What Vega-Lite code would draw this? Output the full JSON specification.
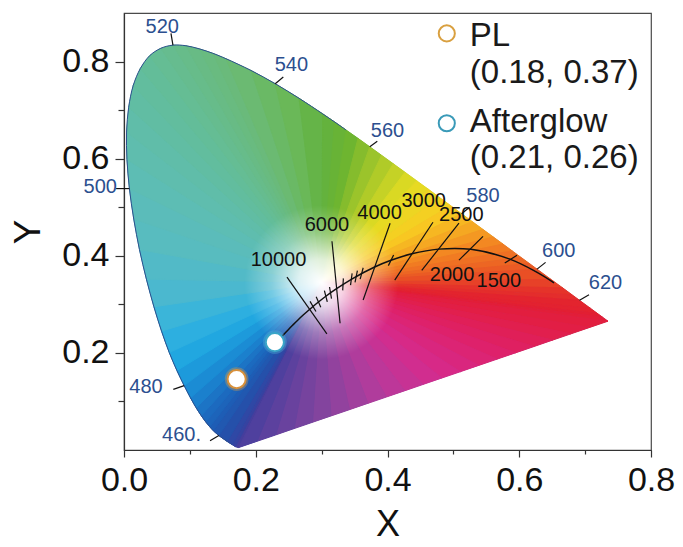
{
"$schema":"https://vega.github.io/schema/vega-lite/v6.json",
"width":527,"height":437,
"autosize":{"type":"none"},
"padding":{"left":124,"top":13,"right":32,"bottom":97},
"background":"white",
"config":{"font":"Liberation Sans","view":{"stroke":"#4a4a4a","strokeWidth":1.2},
 "axis":{"domainColor":"#333","tickColor":"#333","labelColor":"#111","titleColor":"#111","grid":false,"labelFont":"Liberation Sans","titleFont":"Liberation Sans","titleFontWeight":"normal","domainWidth":1.2,"tickWidth":1.2,"labelOverlap":false,"labelFlush":false}},
"datasets":{
"fan":[
{"t":0,"o":0,"x":0.3,"y":0.345,"p":405},{"t":0,"o":1,"x":0.1741,"y":0.005,"p":405},{"t":0,"o":2,"x":0.1689,"y":0.0069,"p":405},
{"t":1,"o":0,"x":0.3,"y":0.345,"p":435},{"t":1,"o":1,"x":0.1689,"y":0.0069,"p":435},{"t":1,"o":2,"x":0.1644,"y":0.0109,"p":435},
{"t":2,"o":0,"x":0.3,"y":0.345,"p":445},{"t":2,"o":1,"x":0.1644,"y":0.0109,"p":445},{"t":2,"o":2,"x":0.1566,"y":0.0177,"p":445},
{"t":3,"o":0,"x":0.3,"y":0.345,"p":455},{"t":3,"o":1,"x":0.1566,"y":0.0177,"p":455},{"t":3,"o":2,"x":0.144,"y":0.0297,"p":455},
{"t":4,"o":0,"x":0.3,"y":0.345,"p":462.5},{"t":4,"o":1,"x":0.144,"y":0.0297,"p":462.5},{"t":4,"o":2,"x":0.1355,"y":0.0399,"p":462.5},
{"t":5,"o":0,"x":0.3,"y":0.345,"p":466.25},{"t":5,"o":1,"x":0.1355,"y":0.0399,"p":466.25},{"t":5,"o":2,"x":0.1302,"y":0.0477,"p":466.25},
{"t":6,"o":0,"x":0.3,"y":0.345,"p":468.75},{"t":6,"o":1,"x":0.1302,"y":0.0477,"p":468.75},{"t":6,"o":2,"x":0.1241,"y":0.0578,"p":468.75},
{"t":7,"o":0,"x":0.3,"y":0.345,"p":471.25},{"t":7,"o":1,"x":0.1241,"y":0.0578,"p":471.25},{"t":7,"o":2,"x":0.1173,"y":0.0706,"p":471.25},
{"t":8,"o":0,"x":0.3,"y":0.345,"p":473.75},{"t":8,"o":1,"x":0.1173,"y":0.0706,"p":473.75},{"t":8,"o":2,"x":0.1096,"y":0.0868,"p":473.75},
{"t":9,"o":0,"x":0.3,"y":0.345,"p":476.25},{"t":9,"o":1,"x":0.1096,"y":0.0868,"p":476.25},{"t":9,"o":2,"x":0.101,"y":0.1073,"p":476.25},
{"t":10,"o":0,"x":0.3,"y":0.345,"p":478.75},{"t":10,"o":1,"x":0.101,"y":0.1073,"p":478.75},{"t":10,"o":2,"x":0.0913,"y":0.1327,"p":478.75},
{"t":11,"o":0,"x":0.3,"y":0.345,"p":481.25},{"t":11,"o":1,"x":0.0913,"y":0.1327,"p":481.25},{"t":11,"o":2,"x":0.0803,"y":0.1637,"p":481.25},
{"t":12,"o":0,"x":0.3,"y":0.345,"p":483.75},{"t":12,"o":1,"x":0.0803,"y":0.1637,"p":483.75},{"t":12,"o":2,"x":0.0687,"y":0.2007,"p":483.75},
{"t":13,"o":0,"x":0.3,"y":0.345,"p":486.25},{"t":13,"o":1,"x":0.0687,"y":0.2007,"p":486.25},{"t":13,"o":2,"x":0.057,"y":0.2447,"p":486.25},
{"t":14,"o":0,"x":0.3,"y":0.345,"p":488.75},{"t":14,"o":1,"x":0.057,"y":0.2447,"p":488.75},{"t":14,"o":2,"x":0.0454,"y":0.295,"p":488.75},
{"t":15,"o":0,"x":0.3,"y":0.345,"p":491.25},{"t":15,"o":1,"x":0.0454,"y":0.295,"p":491.25},{"t":15,"o":2,"x":0.034,"y":0.3519,"p":491.25},
{"t":16,"o":0,"x":0.3,"y":0.345,"p":493.75},{"t":16,"o":1,"x":0.034,"y":0.3519,"p":493.75},{"t":16,"o":2,"x":0.0235,"y":0.4127,"p":493.75},
{"t":17,"o":0,"x":0.3,"y":0.345,"p":496.25},{"t":17,"o":1,"x":0.0235,"y":0.4127,"p":496.25},{"t":17,"o":2,"x":0.0148,"y":0.4756,"p":496.25},
{"t":18,"o":0,"x":0.3,"y":0.345,"p":498.75},{"t":18,"o":1,"x":0.0148,"y":0.4756,"p":498.75},{"t":18,"o":2,"x":0.0082,"y":0.5384,"p":498.75},
{"t":19,"o":0,"x":0.3,"y":0.345,"p":501.25},{"t":19,"o":1,"x":0.0082,"y":0.5384,"p":501.25},{"t":19,"o":2,"x":0.0045,"y":0.5985,"p":501.25},
{"t":20,"o":0,"x":0.3,"y":0.345,"p":503.75},{"t":20,"o":1,"x":0.0045,"y":0.5985,"p":503.75},{"t":20,"o":2,"x":0.0039,"y":0.6548,"p":503.75},
{"t":21,"o":0,"x":0.3,"y":0.345,"p":506.25},{"t":21,"o":1,"x":0.0039,"y":0.6548,"p":506.25},{"t":21,"o":2,"x":0.0071,"y":0.7059,"p":506.25},
{"t":22,"o":0,"x":0.3,"y":0.345,"p":508.75},{"t":22,"o":1,"x":0.0071,"y":0.7059,"p":508.75},{"t":22,"o":2,"x":0.0139,"y":0.7502,"p":508.75},
{"t":23,"o":0,"x":0.3,"y":0.345,"p":511.25},{"t":23,"o":1,"x":0.0139,"y":0.7502,"p":511.25},{"t":23,"o":2,"x":0.0248,"y":0.7857,"p":511.25},
{"t":24,"o":0,"x":0.3,"y":0.345,"p":513.75},{"t":24,"o":1,"x":0.0248,"y":0.7857,"p":513.75},{"t":24,"o":2,"x":0.0389,"y":0.812,"p":513.75},
{"t":25,"o":0,"x":0.3,"y":0.345,"p":516.25},{"t":25,"o":1,"x":0.0389,"y":0.812,"p":516.25},{"t":25,"o":2,"x":0.0557,"y":0.8272,"p":516.25},
{"t":26,"o":0,"x":0.3,"y":0.345,"p":518.75},{"t":26,"o":1,"x":0.0557,"y":0.8272,"p":518.75},{"t":26,"o":2,"x":0.0743,"y":0.8338,"p":518.75},
{"t":27,"o":0,"x":0.3,"y":0.345,"p":521.25},{"t":27,"o":1,"x":0.0743,"y":0.8338,"p":521.25},{"t":27,"o":2,"x":0.0939,"y":0.8326,"p":521.25},
{"t":28,"o":0,"x":0.3,"y":0.345,"p":523.75},{"t":28,"o":1,"x":0.0939,"y":0.8326,"p":523.75},{"t":28,"o":2,"x":0.1142,"y":0.8262,"p":523.75},
{"t":29,"o":0,"x":0.3,"y":0.345,"p":526.25},{"t":29,"o":1,"x":0.1142,"y":0.8262,"p":526.25},{"t":29,"o":2,"x":0.1346,"y":0.8171,"p":526.25},
{"t":30,"o":0,"x":0.3,"y":0.345,"p":528.75},{"t":30,"o":1,"x":0.1346,"y":0.8171,"p":528.75},{"t":30,"o":2,"x":0.1547,"y":0.8059,"p":528.75},
{"t":31,"o":0,"x":0.3,"y":0.345,"p":532.5},{"t":31,"o":1,"x":0.1547,"y":0.8059,"p":532.5},{"t":31,"o":2,"x":0.1929,"y":0.7816,"p":532.5},
{"t":32,"o":0,"x":0.3,"y":0.345,"p":537.5},{"t":32,"o":1,"x":0.1929,"y":0.7816,"p":537.5},{"t":32,"o":2,"x":0.2296,"y":0.7543,"p":537.5},
{"t":33,"o":0,"x":0.3,"y":0.345,"p":542.5},{"t":33,"o":1,"x":0.2296,"y":0.7543,"p":542.5},{"t":33,"o":2,"x":0.2658,"y":0.7243,"p":542.5},
{"t":34,"o":0,"x":0.3,"y":0.345,"p":547.5},{"t":34,"o":1,"x":0.2658,"y":0.7243,"p":547.5},{"t":34,"o":2,"x":0.3016,"y":0.6923,"p":547.5},
{"t":35,"o":0,"x":0.3,"y":0.345,"p":551.25},{"t":35,"o":1,"x":0.3016,"y":0.6923,"p":551.25},{"t":35,"o":2,"x":0.3195,"y":0.6758,"p":551.25},
{"t":36,"o":0,"x":0.3,"y":0.345,"p":553.75},{"t":36,"o":1,"x":0.3195,"y":0.6758,"p":553.75},{"t":36,"o":2,"x":0.3373,"y":0.6589,"p":553.75},
{"t":37,"o":0,"x":0.3,"y":0.345,"p":556.25},{"t":37,"o":1,"x":0.3373,"y":0.6589,"p":556.25},{"t":37,"o":2,"x":0.3552,"y":0.6418,"p":556.25},
{"t":38,"o":0,"x":0.3,"y":0.345,"p":558.75},{"t":38,"o":1,"x":0.3552,"y":0.6418,"p":558.75},{"t":38,"o":2,"x":0.3731,"y":0.6245,"p":558.75},
{"t":39,"o":0,"x":0.3,"y":0.345,"p":561.25},{"t":39,"o":1,"x":0.3731,"y":0.6245,"p":561.25},{"t":39,"o":2,"x":0.3909,"y":0.6071,"p":561.25},
{"t":40,"o":0,"x":0.3,"y":0.345,"p":563.75},{"t":40,"o":1,"x":0.3909,"y":0.6071,"p":563.75},{"t":40,"o":2,"x":0.4087,"y":0.5896,"p":563.75},
{"t":41,"o":0,"x":0.3,"y":0.345,"p":566.25},{"t":41,"o":1,"x":0.4087,"y":0.5896,"p":566.25},{"t":41,"o":2,"x":0.4265,"y":0.5721,"p":566.25},
{"t":42,"o":0,"x":0.3,"y":0.345,"p":568.75},{"t":42,"o":1,"x":0.4265,"y":0.5721,"p":568.75},{"t":42,"o":2,"x":0.4441,"y":0.5547,"p":568.75},
{"t":43,"o":0,"x":0.3,"y":0.345,"p":571.25},{"t":43,"o":1,"x":0.4441,"y":0.5547,"p":571.25},{"t":43,"o":2,"x":0.4616,"y":0.5374,"p":571.25},
{"t":44,"o":0,"x":0.3,"y":0.345,"p":573.75},{"t":44,"o":1,"x":0.4616,"y":0.5374,"p":573.75},{"t":44,"o":2,"x":0.4788,"y":0.5202,"p":573.75},
{"t":45,"o":0,"x":0.3,"y":0.345,"p":576.25},{"t":45,"o":1,"x":0.4788,"y":0.5202,"p":576.25},{"t":45,"o":2,"x":0.4958,"y":0.5033,"p":576.25},
{"t":46,"o":0,"x":0.3,"y":0.345,"p":578.75},{"t":46,"o":1,"x":0.4958,"y":0.5033,"p":578.75},{"t":46,"o":2,"x":0.5125,"y":0.4866,"p":578.75},
{"t":47,"o":0,"x":0.3,"y":0.345,"p":581.25},{"t":47,"o":1,"x":0.5125,"y":0.4866,"p":581.25},{"t":47,"o":2,"x":0.5289,"y":0.4703,"p":581.25},
{"t":48,"o":0,"x":0.3,"y":0.345,"p":583.75},{"t":48,"o":1,"x":0.5289,"y":0.4703,"p":583.75},{"t":48,"o":2,"x":0.5448,"y":0.4544,"p":583.75},
{"t":49,"o":0,"x":0.3,"y":0.345,"p":586.25},{"t":49,"o":1,"x":0.5448,"y":0.4544,"p":586.25},{"t":49,"o":2,"x":0.5603,"y":0.439,"p":586.25},
{"t":50,"o":0,"x":0.3,"y":0.345,"p":588.75},{"t":50,"o":1,"x":0.5603,"y":0.439,"p":588.75},{"t":50,"o":2,"x":0.5752,"y":0.4242,"p":588.75},
{"t":51,"o":0,"x":0.3,"y":0.345,"p":591.25},{"t":51,"o":1,"x":0.5752,"y":0.4242,"p":591.25},{"t":51,"o":2,"x":0.5894,"y":0.41,"p":591.25},
{"t":52,"o":0,"x":0.3,"y":0.345,"p":593.75},{"t":52,"o":1,"x":0.5894,"y":0.41,"p":593.75},{"t":52,"o":2,"x":0.6029,"y":0.3965,"p":593.75},
{"t":53,"o":0,"x":0.3,"y":0.345,"p":596.25},{"t":53,"o":1,"x":0.6029,"y":0.3965,"p":596.25},{"t":53,"o":2,"x":0.6154,"y":0.3841,"p":596.25},
{"t":54,"o":0,"x":0.3,"y":0.345,"p":598.75},{"t":54,"o":1,"x":0.6154,"y":0.3841,"p":598.75},{"t":54,"o":2,"x":0.627,"y":0.3725,"p":598.75},
{"t":55,"o":0,"x":0.3,"y":0.345,"p":602.5},{"t":55,"o":1,"x":0.627,"y":0.3725,"p":602.5},{"t":55,"o":2,"x":0.6482,"y":0.3514,"p":602.5},
{"t":56,"o":0,"x":0.3,"y":0.345,"p":607.5},{"t":56,"o":1,"x":0.6482,"y":0.3514,"p":607.5},{"t":56,"o":2,"x":0.6658,"y":0.334,"p":607.5},
{"t":57,"o":0,"x":0.3,"y":0.345,"p":612.5},{"t":57,"o":1,"x":0.6658,"y":0.334,"p":612.5},{"t":57,"o":2,"x":0.6801,"y":0.3197,"p":612.5},
{"t":58,"o":0,"x":0.3,"y":0.345,"p":617.5},{"t":58,"o":1,"x":0.6801,"y":0.3197,"p":617.5},{"t":58,"o":2,"x":0.6915,"y":0.3083,"p":617.5},
{"t":59,"o":0,"x":0.3,"y":0.345,"p":625},{"t":59,"o":1,"x":0.6915,"y":0.3083,"p":625},{"t":59,"o":2,"x":0.7079,"y":0.292,"p":625},
{"t":60,"o":0,"x":0.3,"y":0.345,"p":635},{"t":60,"o":1,"x":0.7079,"y":0.292,"p":635},{"t":60,"o":2,"x":0.719,"y":0.2809,"p":635},
{"t":61,"o":0,"x":0.3,"y":0.345,"p":645},{"t":61,"o":1,"x":0.719,"y":0.2809,"p":645},{"t":61,"o":2,"x":0.726,"y":0.274,"p":645},
{"t":62,"o":0,"x":0.3,"y":0.345,"p":675},{"t":62,"o":1,"x":0.726,"y":0.274,"p":675},{"t":62,"o":2,"x":0.7347,"y":0.2653,"p":675},
{"t":63,"o":0,"x":0.3,"y":0.345,"p":702.5},{"t":63,"o":1,"x":0.7347,"y":0.2653,"p":702.5},{"t":63,"o":2,"x":0.7067,"y":0.2523,"p":702.5},
{"t":64,"o":0,"x":0.3,"y":0.345,"p":707.5},{"t":64,"o":1,"x":0.7067,"y":0.2523,"p":707.5},{"t":64,"o":2,"x":0.6786,"y":0.2393,"p":707.5},
{"t":65,"o":0,"x":0.3,"y":0.345,"p":712.5},{"t":65,"o":1,"x":0.6786,"y":0.2393,"p":712.5},{"t":65,"o":2,"x":0.6506,"y":0.2263,"p":712.5},
{"t":66,"o":0,"x":0.3,"y":0.345,"p":717.5},{"t":66,"o":1,"x":0.6506,"y":0.2263,"p":717.5},{"t":66,"o":2,"x":0.6226,"y":0.2132,"p":717.5},
{"t":67,"o":0,"x":0.3,"y":0.345,"p":722.5},{"t":67,"o":1,"x":0.6226,"y":0.2132,"p":722.5},{"t":67,"o":2,"x":0.5946,"y":0.2002,"p":722.5},
{"t":68,"o":0,"x":0.3,"y":0.345,"p":727.5},{"t":68,"o":1,"x":0.5946,"y":0.2002,"p":727.5},{"t":68,"o":2,"x":0.5665,"y":0.1872,"p":727.5},
{"t":69,"o":0,"x":0.3,"y":0.345,"p":732.5},{"t":69,"o":1,"x":0.5665,"y":0.1872,"p":732.5},{"t":69,"o":2,"x":0.5385,"y":0.1742,"p":732.5},
{"t":70,"o":0,"x":0.3,"y":0.345,"p":737.5},{"t":70,"o":1,"x":0.5385,"y":0.1742,"p":737.5},{"t":70,"o":2,"x":0.5105,"y":0.1612,"p":737.5},
{"t":71,"o":0,"x":0.3,"y":0.345,"p":742.5},{"t":71,"o":1,"x":0.5105,"y":0.1612,"p":742.5},{"t":71,"o":2,"x":0.4824,"y":0.1482,"p":742.5},
{"t":72,"o":0,"x":0.3,"y":0.345,"p":747.5},{"t":72,"o":1,"x":0.4824,"y":0.1482,"p":747.5},{"t":72,"o":2,"x":0.4544,"y":0.1352,"p":747.5},
{"t":73,"o":0,"x":0.3,"y":0.345,"p":752.5},{"t":73,"o":1,"x":0.4544,"y":0.1352,"p":752.5},{"t":73,"o":2,"x":0.4264,"y":0.1221,"p":752.5},
{"t":74,"o":0,"x":0.3,"y":0.345,"p":757.5},{"t":74,"o":1,"x":0.4264,"y":0.1221,"p":757.5},{"t":74,"o":2,"x":0.3983,"y":0.1091,"p":757.5},
{"t":75,"o":0,"x":0.3,"y":0.345,"p":762.5},{"t":75,"o":1,"x":0.3983,"y":0.1091,"p":762.5},{"t":75,"o":2,"x":0.3703,"y":0.0961,"p":762.5},
{"t":76,"o":0,"x":0.3,"y":0.345,"p":767.5},{"t":76,"o":1,"x":0.3703,"y":0.0961,"p":767.5},{"t":76,"o":2,"x":0.3423,"y":0.0831,"p":767.5},
{"t":77,"o":0,"x":0.3,"y":0.345,"p":772.5},{"t":77,"o":1,"x":0.3423,"y":0.0831,"p":772.5},{"t":77,"o":2,"x":0.3142,"y":0.0701,"p":772.5},
{"t":78,"o":0,"x":0.3,"y":0.345,"p":777.5},{"t":78,"o":1,"x":0.3142,"y":0.0701,"p":777.5},{"t":78,"o":2,"x":0.2862,"y":0.0571,"p":777.5},
{"t":79,"o":0,"x":0.3,"y":0.345,"p":782.5},{"t":79,"o":1,"x":0.2862,"y":0.0571,"p":782.5},{"t":79,"o":2,"x":0.2582,"y":0.0441,"p":782.5},
{"t":80,"o":0,"x":0.3,"y":0.345,"p":787.5},{"t":80,"o":1,"x":0.2582,"y":0.0441,"p":787.5},{"t":80,"o":2,"x":0.2302,"y":0.031,"p":787.5},
{"t":81,"o":0,"x":0.3,"y":0.345,"p":792.5},{"t":81,"o":1,"x":0.2302,"y":0.031,"p":792.5},{"t":81,"o":2,"x":0.2021,"y":0.018,"p":792.5},
{"t":82,"o":0,"x":0.3,"y":0.345,"p":797.5},{"t":82,"o":1,"x":0.2021,"y":0.018,"p":797.5},{"t":82,"o":2,"x":0.1741,"y":0.005,"p":797.5}
],
"locus":[
{"w":380,"x":0.1741,"y":0.005},{"w":430,"x":0.1689,"y":0.0069},{"w":440,"x":0.1644,"y":0.0109},{"w":450,"x":0.1566,"y":0.0177},{"w":460,"x":0.144,"y":0.0297},{"w":465,"x":0.1355,"y":0.0399},{"w":467.5,"x":0.1302,"y":0.0477},{"w":470,"x":0.1241,"y":0.0578},{"w":472.5,"x":0.1173,"y":0.0706},{"w":475,"x":0.1096,"y":0.0868},{"w":477.5,"x":0.101,"y":0.1073},{"w":480,"x":0.0913,"y":0.1327},{"w":482.5,"x":0.0803,"y":0.1637},{"w":485,"x":0.0687,"y":0.2007},{"w":487.5,"x":0.057,"y":0.2447},{"w":490,"x":0.0454,"y":0.295},{"w":492.5,"x":0.034,"y":0.3519},{"w":495,"x":0.0235,"y":0.4127},{"w":497.5,"x":0.0148,"y":0.4756},{"w":500,"x":0.0082,"y":0.5384},{"w":502.5,"x":0.0045,"y":0.5985},{"w":505,"x":0.0039,"y":0.6548},{"w":507.5,"x":0.0071,"y":0.7059},{"w":510,"x":0.0139,"y":0.7502},{"w":512.5,"x":0.0248,"y":0.7857},{"w":515,"x":0.0389,"y":0.812},{"w":517.5,"x":0.0557,"y":0.8272},{"w":520,"x":0.0743,"y":0.8338},{"w":522.5,"x":0.0939,"y":0.8326},{"w":525,"x":0.1142,"y":0.8262},{"w":527.5,"x":0.1346,"y":0.8171},{"w":530,"x":0.1547,"y":0.8059},{"w":535,"x":0.1929,"y":0.7816},{"w":540,"x":0.2296,"y":0.7543},{"w":545,"x":0.2658,"y":0.7243},{"w":550,"x":0.3016,"y":0.6923},{"w":552.5,"x":0.3195,"y":0.6758},{"w":555,"x":0.3373,"y":0.6589},{"w":557.5,"x":0.3552,"y":0.6418},{"w":560,"x":0.3731,"y":0.6245},{"w":562.5,"x":0.3909,"y":0.6071},{"w":565,"x":0.4087,"y":0.5896},{"w":567.5,"x":0.4265,"y":0.5721},{"w":570,"x":0.4441,"y":0.5547},{"w":572.5,"x":0.4616,"y":0.5374},{"w":575,"x":0.4788,"y":0.5202},{"w":577.5,"x":0.4958,"y":0.5033},{"w":580,"x":0.5125,"y":0.4866},{"w":582.5,"x":0.5289,"y":0.4703},{"w":585,"x":0.5448,"y":0.4544},{"w":587.5,"x":0.5603,"y":0.439},{"w":590,"x":0.5752,"y":0.4242},{"w":592.5,"x":0.5894,"y":0.41},{"w":595,"x":0.6029,"y":0.3965},{"w":597.5,"x":0.6154,"y":0.3841},{"w":600,"x":0.627,"y":0.3725},{"w":605,"x":0.6482,"y":0.3514},{"w":610,"x":0.6658,"y":0.334},{"w":615,"x":0.6801,"y":0.3197},{"w":620,"x":0.6915,"y":0.3083},{"w":630,"x":0.7079,"y":0.292},{"w":640,"x":0.719,"y":0.2809},{"w":650,"x":0.726,"y":0.274},{"w":700,"x":0.7347,"y":0.2653}
],
"planck":[
{"o":0,"x":0.2399,"y":0.2341},{"o":1,"x":0.2501,"y":0.2489},{"o":2,"x":0.2565,"y":0.2577},{"o":3,"x":0.2637,"y":0.2673},{"o":4,"x":0.272,"y":0.2779},{"o":5,"x":0.2807,"y":0.2884},{"o":6,"x":0.2869,"y":0.2956},{"o":7,"x":0.2952,"y":0.3048},{"o":8,"x":0.3064,"y":0.3166},{"o":9,"x":0.3221,"y":0.3318},{"o":10,"x":0.3451,"y":0.3516},{"o":11,"x":0.3805,"y":0.3768},{"o":12,"x":0.4053,"y":0.3907},{"o":13,"x":0.4369,"y":0.4041},{"o":14,"x":0.477,"y":0.4137},{"o":15,"x":0.5267,"y":0.4133},{"o":16,"x":0.5857,"y":0.3931},{"o":17,"x":0.6251,"y":0.3674},{"o":18,"x":0.6528,"y":0.3444}
],
"segs":[
{"id":"10000","o":0,"x":0.2474,"y":0.356},{"id":"10000","o":1,"x":0.308,"y":0.239},
{"id":"6000","o":0,"x":0.3157,"y":0.43},{"id":"6000","o":1,"x":0.328,"y":0.261},
{"id":"4000","o":0,"x":0.404,"y":0.467},{"id":"4000","o":1,"x":0.363,"y":0.309},
{"id":"3000","o":0,"x":0.469,"y":0.469},{"id":"3000","o":1,"x":0.411,"y":0.35},
{"id":"2500","o":0,"x":0.5085,"y":0.467},{"id":"2500","o":1,"x":0.452,"y":0.37},
{"id":"2000","o":0,"x":0.545,"y":0.44},{"id":"2000","o":1,"x":0.5085,"y":0.391},
{"id":"1500","o":0,"x":0.5966,"y":0.401},{"id":"1500","o":1,"x":0.578,"y":0.385},
{"id":"9000","o":0,"x":0.2824,"y":0.3061},{"id":"9000","o":1,"x":0.2914,"y":0.2851},
{"id":"8000","o":0,"x":0.2917,"y":0.3158},{"id":"8000","o":1,"x":0.2987,"y":0.2938},
{"id":"7000","o":0,"x":0.3042,"y":0.3283},{"id":"7000","o":1,"x":0.3086,"y":0.3049},
{"id":"6500","o":0,"x":0.312,"y":0.3357},{"id":"6500","o":1,"x":0.315,"y":0.3117},
{"id":"5500","o":0,"x":0.333,"y":0.3534},{"id":"5500","o":1,"x":0.332,"y":0.3288},
{"id":"5000","o":0,"x":0.3463,"y":0.3636},{"id":"5000","o":1,"x":0.3439,"y":0.3396},
{"id":"4750","o":0,"x":0.3543,"y":0.3693},{"id":"4750","o":1,"x":0.3507,"y":0.3453},
{"id":"4500","o":0,"x":0.3631,"y":0.3754},{"id":"4500","o":1,"x":0.3585,"y":0.3518},
{"id":"3500","o":0,"x":0.4093,"y":0.4017},{"id":"3500","o":1,"x":0.4013,"y":0.3797},
{"id":"w520","o":0,"x":0.0743,"y":0.8338},{"id":"w520","o":1,"x":0.0713,"y":0.858},
{"id":"w540","o":0,"x":0.2296,"y":0.7543},{"id":"w540","o":1,"x":0.2418,"y":0.7681},
{"id":"w560","o":0,"x":0.3731,"y":0.6245},{"id":"w560","o":1,"x":0.3845,"y":0.6358},
{"id":"w580","o":0,"x":0.5125,"y":0.4866},{"id":"w580","o":1,"x":0.5245,"y":0.5},
{"id":"w600","o":0,"x":0.627,"y":0.3725},{"id":"w600","o":1,"x":0.64,"y":0.3864},
{"id":"w620","o":0,"x":0.6915,"y":0.3083},{"id":"w620","o":1,"x":0.7059,"y":0.3198},
{"id":"w500","o":0,"x":0.0082,"y":0.5384},{"id":"w500","o":1,"x":-0.012,"y":0.5384},
{"id":"w480","o":0,"x":0.0913,"y":0.1327},{"id":"w480","o":1,"x":0.0749,"y":0.1249},
{"id":"w460","o":0,"x":0.144,"y":0.0297},{"id":"w460","o":1,"x":0.1306,"y":0.0191}
],
"wl":[
{"t":"520","x":0.058,"y":0.872},{"t":"540","x":0.254,"y":0.793},{"t":"560","x":0.4,"y":0.657},{"t":"580","x":0.545,"y":0.523},{"t":"600","x":0.66,"y":0.41},{"t":"620","x":0.731,"y":0.344},{"t":"500","x":-0.036,"y":0.541},{"t":"480","x":0.0334,"y":0.129},{"t":"460.","x":0.0873,"y":0.03}
],
"temps":[
{"t":"10000","x":0.2345,"y":0.392},{"t":"6000","x":0.308,"y":0.464},{"t":"4000","x":0.388,"y":0.489},{"t":"3000","x":0.455,"y":0.513},{"t":"2500","x":0.512,"y":0.483},{"t":"2000","x":0.498,"y":0.361},{"t":"1500","x":0.569,"y":0.349}
],
"pts":[{"name":"PL","x":0.171,"y":0.146},{"name":"Afterglow","x":0.229,"y":0.222}],
"leg":[{"name":"PL","x":0.49,"y":0.858},{"name":"Afterglow","x":0.49,"y":0.673}],
"legt":[{"t":"PL","x":0.525,"y":0.833},{"t":"(0.18, 0.37)","x":0.525,"y":0.755},{"t":"Afterglow","x":0.525,"y":0.654},{"t":"(0.21, 0.26)","x":0.525,"y":0.58}]
},
"encoding":{
 "x":{"field":"x","type":"quantitative","scale":{"domain":[0,0.8],"nice":false,"zero":false},
  "axis":{"values":[0,0.1,0.2,0.3,0.4,0.5,0.6,0.7,0.8],"format":".1f","labelExpr":"round(datum.value*10)%2==0 ? datum.label : ''","tickSize":{"condition":{"test":"round(datum.value*10)%2==0","value":7},"value":4},"labelFontSize":34,"labelPadding":6,"title":"X","titleFontSize":36,"titlePadding":10}},
 "y":{"field":"y","type":"quantitative","scale":{"domain":[0,0.9],"nice":false,"zero":false},
  "axis":{"values":[0.1,0.2,0.3,0.4,0.5,0.6,0.7,0.8],"format":".1f","labelExpr":"round(datum.value*10)%2==0 ? datum.label : ''","tickSize":{"condition":{"test":"round(datum.value*10)%2==0","value":9},"value":6},"labelFontSize":34,"labelPadding":6,"title":"Y","titleFontSize":37,"titlePadding":14}}
},
"layer":[
 {"data":{"name":"locus"},
  "mark":{"type":"line","interpolate":"catmull-rom","strokeOpacity":0,
   "fill":{"gradient":"linear","x1":0,"y1":0,"x2":0,"y2":1,"stops":[{"offset":0,"color":"#67bb88"},{"offset":0.1,"color":"#63bd96"},{"offset":0.36,"color":"#5cbdb4"},{"offset":0.5,"color":"#52bac8"},{"offset":0.64,"color":"#38b2dc"},{"offset":0.76,"color":"#1e9ada"},{"offset":0.85,"color":"#1b7cc8"},{"offset":0.93,"color":"#1f5ab2"},{"offset":1,"color":"#3444a2"}]}},
  "encoding":{"order":{"field":"w","type":"quantitative"}}},
 {"data":{"name":"fan"},
  "mark":{"type":"line","interpolate":"linear-closed","strokeWidth":1,"strokeJoin":"round"},
  "encoding":{"detail":{"field":"t","type":"nominal"},"order":{"field":"o","type":"quantitative"},
   "fill":{"field":"p","type":"quantitative","legend":null,"scale":{"interpolate":"rgb","domain":[405,440,455,465,472,478,483,487,491,496,502,515,530,542,550,556,562,570,578,590,600,612,625,650,705,725,745,760,775,797],"range":["#453e9c","#3444a2","#2550aa","#1f5ab2","#1c6cc0","#1b88d2","#1ea4e0","#30b2e0","#4ab8d0","#58bcc0","#5ebdb2","#64bd96","#6bba78","#6ab85a","#62b240","#6cb430","#a2c62a","#e4dc22","#f8cc22","#f28022","#ea5624","#e5342a","#e3242e","#e21e34","#e21e40","#df2066","#d62a8c","#b83a9c","#8a449e","#50409e"]}},
   "stroke":{"field":"p","type":"quantitative","legend":null,"scale":{"interpolate":"rgb","domain":[405,440,455,465,472,478,483,487,491,496,502,515,530,542,550,556,562,570,578,590,600,612,625,650,705,725,745,760,775,797],"range":["#453e9c","#3444a2","#2550aa","#1f5ab2","#1c6cc0","#1b88d2","#1ea4e0","#30b2e0","#4ab8d0","#58bcc0","#5ebdb2","#64bd96","#6bba78","#6ab85a","#62b240","#6cb430","#a2c62a","#e4dc22","#f8cc22","#f28022","#ea5624","#e5342a","#e3242e","#e21e34","#e21e40","#df2066","#d62a8c","#b83a9c","#8a449e","#50409e"]}}}},
 {"data":{"name":"locus"},
  "mark":{"type":"line","interpolate":"catmull-rom","strokeOpacity":0,
   "fill":{"gradient":"radial","x1":0.405,"y1":0.575,"r1":0,"x2":0.405,"y2":0.575,"r2":0.16,"stops":[{"offset":0,"color":"rgba(255,255,255,1)"},{"offset":0.3,"color":"rgba(255,255,255,0.8)"},{"offset":0.65,"color":"rgba(255,255,255,0.3)"},{"offset":1,"color":"rgba(255,255,255,0)"}]}},
  "encoding":{"order":{"field":"w","type":"quantitative"}}},
 {"data":{"name":"locus"},
  "transform":[{"filter":"datum.w>=440 && datum.w<=555"}],
  "mark":{"type":"line","stroke":"#2d4f8e","strokeWidth":1,"interpolate":"catmull-rom"},
  "encoding":{"order":{"field":"w","type":"quantitative"}}},
 {"data":{"name":"planck"},
  "mark":{"type":"line","stroke":"#111","strokeWidth":1.5,"interpolate":"catmull-rom"},
  "encoding":{"order":{"field":"o","type":"quantitative"}}},
 {"data":{"name":"segs"},
  "mark":{"type":"line","stroke":"#111","strokeWidth":1.2},
  "encoding":{"detail":{"field":"id","type":"nominal"},"order":{"field":"o","type":"quantitative"}}},
 {"data":{"name":"wl"},
  "mark":{"type":"text","fontSize":20,"fill":"#2c4f8f","align":"center","baseline":"middle"},
  "encoding":{"text":{"field":"t","type":"nominal"}}},
 {"data":{"name":"temps"},
  "mark":{"type":"text","fontSize":20,"fill":"#111","align":"center","baseline":"middle"},
  "encoding":{"text":{"field":"t","type":"nominal"}}},
 {"data":{"name":"pts"},
  "mark":{"type":"circle","size":560,"opacity":0.35},
  "encoding":{"color":{"field":"name","type":"nominal","legend":null,"scale":{"domain":["PL","Afterglow"],"range":["#e8a040","#5ab8d8"]}}}},
 {"data":{"name":"pts"},
  "mark":{"type":"point","shape":"circle","filled":false,"fill":"white","fillOpacity":1,"opacity":1,"size":330,"strokeWidth":2},
  "encoding":{"color":{"field":"name","type":"nominal","legend":null,"scale":{"domain":["PL","Afterglow"],"range":["#d8903a","#3aa6c8"]}}}},
 {"data":{"name":"leg"},
  "mark":{"type":"point","shape":"circle","filled":false,"opacity":1,"size":260,"strokeWidth":2},
  "encoding":{"color":{"field":"name","type":"nominal","legend":null,"scale":{"domain":["PL","Afterglow"],"range":["#d9a040","#3a9ab8"]}}}},
 {"data":{"name":"legt"},
  "mark":{"type":"text","fontSize":33,"fill":"#1a1a1a","align":"left","baseline":"alphabetic"},
  "encoding":{"text":{"field":"t","type":"nominal"}}}
],
"resolve":{"scale":{"color":"independent","fill":"independent","stroke":"independent"}}
}
